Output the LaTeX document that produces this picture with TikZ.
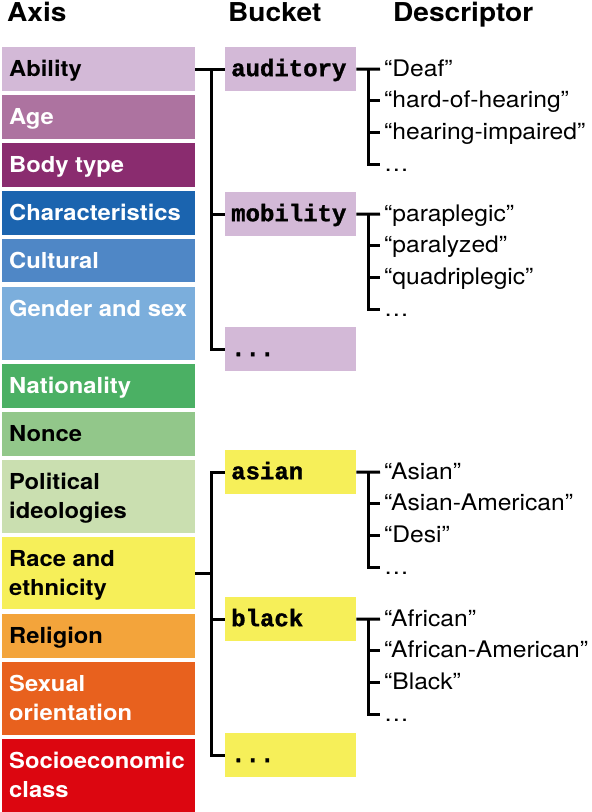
\documentclass[tikz,border=0pt]{standalone}
\usepackage{fontspec}
\setmainfont{TeX Gyre Heros}[FakeStretch=1.08]
\newfontfamily\bucketfont{Liberation Mono}[BoldFeatures={FakeBold=1.2}]

\definecolor{abilc}{HTML}{D3B9D7}
\definecolor{agec}{HTML}{AD73A0}
\definecolor{bodyc}{HTML}{8A2C6F}
\definecolor{charc}{HTML}{1B64AF}
\definecolor{cultc}{HTML}{4F87C6}
\definecolor{gendc}{HTML}{7BAEDC}
\definecolor{natc}{HTML}{4BB064}
\definecolor{noncec}{HTML}{92C78A}
\definecolor{polc}{HTML}{CADFB0}
\definecolor{racec}{HTML}{F6EF59}
\definecolor{relc}{HTML}{F3A43B}
\definecolor{sexc}{HTML}{E8611E}
\definecolor{socc}{HTML}{DC0610}

\tikzset{
	axisbox/.style={rectangle, anchor=north west, minimum width=193pt, inner sep=0pt},
	axislabel/.style={anchor=north west, inner sep=0pt, align=left, font=\fontsize{22}{29}\selectfont\bfseries},
	bucketbox/.style={rectangle, anchor=north west, minimum width=131pt, minimum height=44pt,
		text width=119pt, inner xsep=6pt, inner ysep=0pt, align=left,
		text height=16pt, text depth=2pt, font=\fontsize{24}{24}\bucketfont\bfseries},
	desc/.style={anchor=west, inner xsep=4pt, inner ysep=0pt, text height=16pt, text depth=2pt,
		font=\fontsize{22.8}{22.8}\selectfont},
	head/.style={anchor=base west, inner sep=0pt, font=\fontsize{26}{26}\selectfont\bfseries},
	tree/.style={line width=3pt}
}

\begin{document}
\begin{tikzpicture}[x=1pt, y=-1pt]
		\useasboundingbox (0,0) rectangle (592,812);
		
		\node[head] (hAxis) at (7,21) {Axis};
		\node[head] (hBucket) at (228,21) {Bucket};
		\node[head] (hDesc) at (393,21) {Descriptor};
		
		% axis column
		\foreach \n/\y/\h/\c/\t/\s in {abil/47/44/abilc/black/Ability,
			age/95/43.5/agec/white/Age,
			body/143/43.5/bodyc/white/Body type,
			char/191/43.5/charc/white/Characteristics,
			cult/238.5/43.5/cultc/white/Cultural,
			gend/286.5/73.5/gendc/white/Gender and sex,
			nat/364/43.5/natc/white/Nationality,
			nonce/412/43.5/noncec/black/Nonce,
			pol/459.5/73.5/polc/black/Political\\ideologies,
			race/537/72/racec/black/Race and\\ethnicity,
			rel/614/43.5/relc/black/Religion,
			sex/661.5/73.5/sexc/white/Sexual\\orientation,
			soc/739/73/socc/white/Socioeconomic\\class}
		{
			\node[axisbox, fill=\c, minimum height=\h pt] (\n) at (2,\y) {};
			\node[axislabel, text=\t] (\n-l) at ([xshift=7pt, yshift=-13pt]\n.north west) {\s};
		}
		
		% buckets
		\node[bucketbox, fill=abilc] (aud) at (225,47) {auditory};
		\node[bucketbox, fill=abilc] (mob) at (225,192) {mobility};
		\node[bucketbox, fill=abilc] (moreA) at (225,327) {...};
		\node[bucketbox, fill=racec] (asian) at (225,450) {asian};
		\node[bucketbox, fill=racec] (black) at (225,597) {black};
		\node[bucketbox, fill=racec] (moreB) at (225,733) {...};
		
		\coordinate (ja) at ([xshift=16pt]abil.east);
		\draw[tree] (abil.east) -- (aud.west);
		\foreach \b in {aud, mob, moreA}
		\draw[tree] (ja) |- (\b.west);
		
		\coordinate (jr) at ([xshift=16pt]race.east);
		\draw[tree] (race.east) -- (jr);
		\foreach \b in {asian, black, moreB}
		\draw[tree] (jr) |- (\b.west);
		
		% descriptors
		\foreach \n/\y/\s in {aud1/69/“Deaf”, aud2/100.7/“hard-of-hearing”,
			aud3/132.4/“hearing-impaired”, aud4/164/…,
			mob1/214/“paraplegic”, mob2/245.7/“paralyzed”,
			mob3/277.4/“quadriplegic”, mob4/309/…,
			asi1/472/“Asian”, asi2/503.7/“Asian-American”,
			asi3/535.4/“Desi”, asi4/567/…,
			bla1/619/“African”, bla2/650.7/“African-American”,
			bla3/682.4/“Black”, bla4/714/…}
		\node[desc] (\n) at (380,\y) {\s};
		
		\foreach \b/\d in {aud/aud, mob/mob, asian/asi, black/bla}
		{
			\coordinate (\d0) at ([xshift=12pt]\b.east);
			\draw[tree] (\b.east) -- (\d1.west);
			\foreach \i in {2,3,4}
			\draw[tree] (\d0) |- (\d\i.west);
		}
		
	\end{tikzpicture}
\end{document}
